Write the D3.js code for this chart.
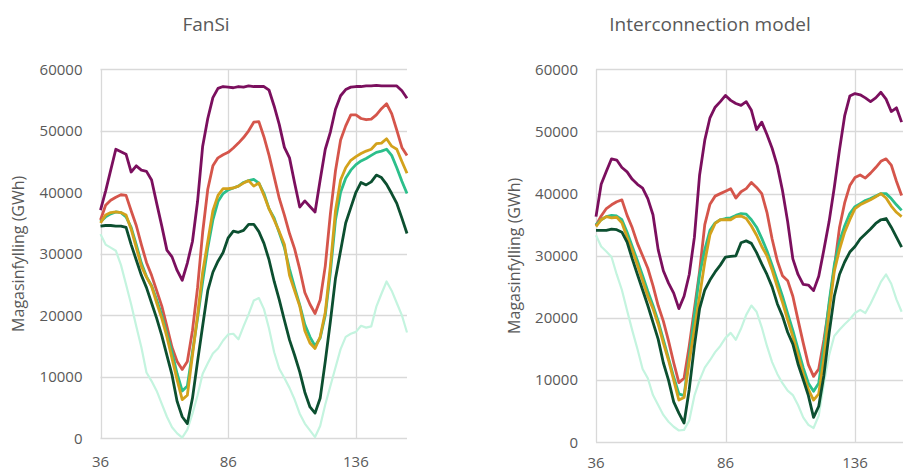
<!DOCTYPE html>
<html>
<head>
<meta charset="utf-8">
<script src="https://cdnjs.cloudflare.com/ajax/libs/d3/7.8.5/d3.min.js"></script>
<style>
  body { margin: 0; background: #fff; overflow: hidden; }
  svg { display: block; font-family: "Open Sans", sans-serif; }
</style>
</head>
<body>
<div id="chart"></div>
<script>
// weeks (every second week)
var weeks = [36, 38, 40, 42, 44, 46, 48, 50, 52, 54, 56, 58, 60, 62, 64, 66, 68, 70, 72, 74,
  76, 78, 80, 82, 84, 86, 88, 90, 92, 94, 96, 98, 100, 102, 104, 106, 108, 110, 112, 114,
  116, 118, 120, 122, 124, 126, 128, 130, 132, 134, 136, 138, 140, 142, 144, 146, 148, 150, 152, 154, 156];

var xTicks = [36, 86, 136];
var yTicks = [0, 10000, 20000, 30000, 40000, 50000, 60000];

// FanSi
var fansiPurple = [37100, 40200, 43600, 47000, 46600, 46200, 43300, 44300, 43600, 43400, 42000, 38200, 34500, 30600, 29500, 27300, 25700, 28500, 32000, 38500,
  47500, 52000, 55400, 56900, 57200, 57100, 57000, 57200, 57100, 57300, 57200, 57200, 57200, 56600, 54000, 51000, 47300, 45600, 41500, 37600,
  38600, 37700, 36800, 42000, 47000, 49800, 53500, 55700, 56700, 57100, 57200, 57200, 57300, 57300, 57400, 57300, 57300, 57300, 57300, 56500, 55300];
var fansiRed = [35500, 37900, 38700, 39200, 39600, 39500, 37000, 34600, 31500, 28600, 26500, 24000, 21500, 18200, 14800, 12500, 11200, 12500, 17500, 24500,
  33500, 40500, 44300, 45600, 46100, 46500, 47200, 48000, 48900, 50000, 51400, 51500, 49000, 46000, 42500, 39000, 36300, 33300, 30800, 27500,
  23700, 21800, 20300, 22500, 28000, 36500, 43500, 48500, 50800, 52600, 52600, 52000, 51800, 51900, 52600, 53600, 54400, 52800, 50100, 47300, 46000];
var fansiGold = [35000, 36300, 36700, 36800, 36700, 36300, 34000, 31000, 28000, 26200, 24700, 22000, 19500, 16500, 13000, 9500, 6300, 7000, 13500, 20000,
  27000, 32000, 37000, 39500, 40600, 40600, 40700, 41000, 41500, 41900, 41000, 41500, 39500, 37300, 35500, 33600, 31500, 26500, 24000, 21500,
  17500, 15500, 14600, 16500, 20500, 28000, 37000, 42000, 44000, 45200, 45800, 46300, 46700, 47000, 47900, 48000, 48700, 47500, 47000, 45000, 43100];
var fansiTeal = [35200, 36000, 36500, 36800, 36700, 36000, 34300, 31500, 28500, 26300, 24800, 22500, 20000, 17000, 14000, 10500, 7700, 8500, 14000, 19500,
  25500, 31000, 35500, 38500, 39800, 40400, 40700, 41000, 41600, 41900, 42100, 41500, 39800, 37300, 35800, 33400, 31000, 27500, 24500, 21700,
  18500, 16500, 15000, 16300, 20000, 27000, 35500, 40000, 42300, 43600, 44500, 45100, 45500, 46000, 46500, 46700, 47000, 46000, 44000, 41800, 39800];
var fansiDark = [34500, 34600, 34600, 34500, 34500, 34300, 31500, 29000, 26500, 24500, 22000, 19500, 16700, 13500, 10300, 6000, 3500, 2400, 6500, 12500,
  18300, 24000, 27000, 28800, 30200, 32600, 33700, 33500, 33800, 34800, 34800, 33600, 31700, 29000, 25500, 22500, 19200, 16000, 13500, 10800,
  7500, 5100, 4100, 6500, 12500, 19000, 26000, 30500, 35000, 37500, 40000, 41600, 41200, 41700, 42800, 42400, 41300, 39800, 38200, 35800, 33300];
var fansiMint = [33200, 31500, 31000, 30500, 28200, 25000, 21800, 18200, 14800, 10700, 9300, 7700, 5600, 3500, 1800, 800, 100, 1400, 4000, 7000,
  10500, 12200, 13800, 14600, 15900, 16900, 17000, 16100, 18200, 20200, 22400, 22800, 21000, 17800, 14000, 11300, 9800, 8200, 6300, 4000,
  2400, 1300, 200, 2000, 5500, 8500, 11500, 14500, 16500, 17000, 17300, 18300, 18000, 18200, 21400, 23500, 25500, 24000, 22000, 20000, 17200];

// Interconnection model (visible up to week 154)
var interPurple = [36300, 41500, 43600, 45600, 45400, 44200, 43500, 42300, 41500, 40900, 39200, 36600, 31000, 27600, 25600, 24000, 21500, 23500, 27000, 33000,
  43000, 48600, 52200, 53900, 54800, 55800, 55000, 54500, 54200, 54800, 53400, 50300, 51500, 49500, 47300, 44500, 40500, 35500, 29500, 27000,
  25400, 25300, 24400, 26700, 31000, 35500, 41000, 47000, 52500, 55700, 56100, 55900, 55400, 54800, 55400, 56300, 55200, 53200, 53800, 51500];
var interRed = [34900, 36400, 37600, 38200, 38700, 39000, 36500, 34500, 32000, 30000, 28000, 25200, 22000, 19500, 16300, 12800, 9600, 10300, 15500, 21500,
  27500, 35000, 38300, 39600, 40000, 40400, 40800, 39300, 40300, 40800, 41800, 41000, 40000, 37000, 32700, 29200, 26800, 26000, 23500, 19700,
  16000, 12500, 10600, 11800, 16500, 22000, 28000, 34500, 38500, 41300, 42600, 43000, 42500, 43300, 44200, 45200, 45600, 44600, 42000, 39700];
var interGold = [34700, 35800, 36300, 36100, 36200, 35300, 33000, 30900, 28500, 26000, 23500, 21500, 19000, 16000, 13200, 10000, 6800, 7200, 13000, 18200,
  23500, 29000, 33400, 35200, 35800, 35800, 35800, 36300, 36400, 36000, 34800, 33300, 31500, 30000, 27700, 25000, 22500, 19700, 17000, 14000,
  11000, 8500, 6800, 7800, 13500, 21000, 27500, 31000, 33800, 35800, 37600, 38200, 38600, 39000, 39500, 40000, 39300, 38000, 37000, 36300];
var interTeal = [35000, 35800, 36300, 36500, 36400, 35800, 33800, 31500, 29200, 26800, 24300, 22000, 19500, 16500, 13500, 10500, 7800, 7500, 13800, 20500,
  27000, 31000, 34100, 35300, 35800, 36000, 36100, 36500, 36800, 36700, 35800, 34600, 32800, 30800, 28500, 26000, 23500, 20700, 18000, 15000,
  12000, 9500, 8200, 9500, 15500, 22500, 28500, 32300, 34800, 36800, 37900, 38400, 38900, 39200, 39600, 40000, 40000, 39200, 38200, 37300];
var interDark = [34100, 34100, 34100, 34300, 34200, 33800, 32200, 29500, 27000, 24500, 22000, 19300, 16600, 12800, 10000, 6500, 4700, 3100, 8500, 15500,
  21500, 24500, 26100, 27400, 28500, 29800, 29900, 30000, 32100, 32400, 32000, 30500, 28700, 27000, 25000, 22300, 20300, 17700, 15800, 12600,
  10100, 7500, 4000, 5800, 10800, 17500, 23500, 27000, 29000, 30600, 31500, 32700, 33500, 34300, 35200, 35800, 36000, 34600, 33000, 31400];
var interMint = [33300, 31500, 30700, 29800, 27000, 24500, 21200, 18000, 15000, 11800, 10300, 7600, 6000, 4400, 3300, 2500, 1900, 2000, 3500, 7500,
  10000, 12000, 13200, 14500, 15500, 16800, 17600, 16500, 18300, 20500, 22000, 21000, 18500, 15500, 12900, 11000, 9500, 8300, 7600, 6000,
  4000, 2800, 2300, 4300, 9500, 14000, 17100, 18100, 19000, 19800, 20800, 21300, 20800, 22300, 24000, 25800, 27000, 25500, 23000, 21000];

var colors = {
  mint: "#c4f4df",
  purple: "#7b0f5e",
  red: "#d5554b",
  teal: "#2cbf8b",
  gold: "#d3a21c",
  dark: "#0c4f30"
};

var width = 903, height = 472;

var svg = d3.select("#chart").append("svg")
  .attr("width", width)
  .attr("height", height);

function drawPanel(cfg) {
  var x = d3.scaleLinear().domain([36, 156]).range([cfg.left, cfg.right]);
  var y = d3.scaleLinear().domain([0, 60000]).range([cfg.bottom, cfg.top]);

  var g = svg.append("g");

  // horizontal gridlines
  g.selectAll(".hgrid").data(yTicks).enter().append("line")
    .attr("x1", cfg.left).attr("x2", cfg.right)
    .attr("y1", function (d) { return Math.round(y(d)) + 0.5; })
    .attr("y2", function (d) { return Math.round(y(d)) + 0.5; })
    .attr("stroke", "#d9d9d9").attr("stroke-width", 1.3);

  // vertical gridlines
  g.selectAll(".vgrid").data(xTicks).enter().append("line")
    .attr("x1", function (d) { return Math.round(x(d)) + 0.5; })
    .attr("x2", function (d) { return Math.round(x(d)) + 0.5; })
    .attr("y1", cfg.top).attr("y2", cfg.bottom)
    .attr("stroke", "#d9d9d9").attr("stroke-width", 1.3);

  // y tick labels
  g.selectAll(".ylab").data(yTicks).enter().append("text")
    .attr("x", cfg.left - 18)
    .attr("y", function (d) { return y(d); })
    .attr("dy", "0.35em")
    .attr("text-anchor", "end")
    .attr("fill", "#595959")
    .style("font-size", "15px")
    .text(function (d) { return d; });

  // x tick labels
  g.selectAll(".xlab").data(xTicks).enter().append("text")
    .attr("x", function (d) { return x(d); })
    .attr("y", cfg.xLabelY)
    .attr("dy", "0.35em")
    .attr("text-anchor", "middle")
    .attr("fill", "#595959")
    .style("font-size", "15px")
    .text(function (d) { return d; });

  // y axis title
  g.append("text")
    .attr("transform", "translate(" + cfg.yTitleX + "," + ((cfg.top + cfg.bottom) / 2) + ") rotate(-90)")
    .attr("text-anchor", "middle")
    .attr("dy", "0.35em")
    .attr("fill", "#595959")
    .style("font-size", "16px")
    .text("Magasinfylling (GWh)");

  // title
  g.append("text")
    .attr("x", cfg.titleX)
    .attr("y", 24)
    .attr("dy", "0.35em")
    .attr("text-anchor", "middle")
    .attr("fill", "#595959")
    .style("font-size", "19px")
    .text(cfg.title);

  var line = d3.line()
    .x(function (d, i) { return x(weeks[i]); })
    .y(function (d) { return y(d); });

  cfg.series.forEach(function (s) {
    g.append("path")
      .datum(s.values)
      .attr("fill", "none")
      .attr("stroke", colors[s.key])
      .attr("stroke-width", s.key === "mint" ? 2.2 : 2.8)
      .attr("stroke-linejoin", "round")
      .attr("d", line);
  });
}

drawPanel({
  title: "FanSi", titleX: 206, yTitleX: 18,
  left: 100.5, right: 407, top: 69.3, bottom: 438.3, xLabelY: 462,
  series: [
    { key: "mint", values: fansiMint },
    { key: "purple", values: fansiPurple },
    { key: "red", values: fansiRed },
    { key: "teal", values: fansiTeal },
    { key: "gold", values: fansiGold },
    { key: "dark", values: fansiDark }
  ]
});

drawPanel({
  title: "Interconnection model", titleX: 710, yTitleX: 514,
  left: 596, right: 906.8, top: 69.3, bottom: 442.3, xLabelY: 463,
  series: [
    { key: "mint", values: interMint },
    { key: "purple", values: interPurple },
    { key: "red", values: interRed },
    { key: "teal", values: interTeal },
    { key: "gold", values: interGold },
    { key: "dark", values: interDark }
  ]
});
</script>
</body>
</html>
